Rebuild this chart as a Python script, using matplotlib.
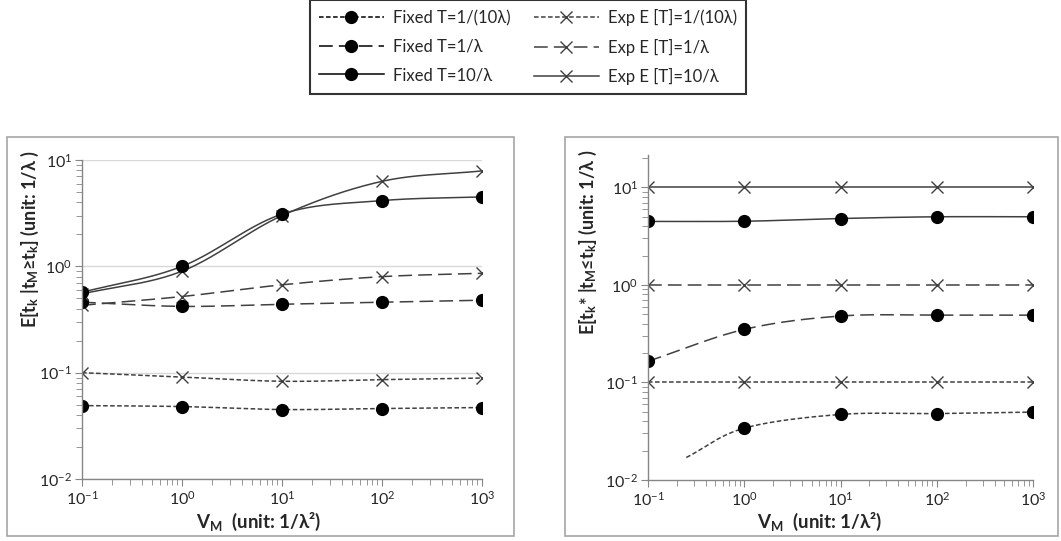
import numpy as np
import matplotlib
matplotlib.use("Agg")
import matplotlib.pyplot as plt
from matplotlib.lines import Line2D
from matplotlib.patches import Rectangle
from matplotlib.ticker import LogLocator, NullFormatter

plt.rcParams['font.family'] = ['Lato', 'DejaVu Sans']
plt.rcParams['mathtext.fontset'] = 'custom'
plt.rcParams['mathtext.rm'] = 'Lato'
plt.rcParams['mathtext.it'] = 'Lato:italic'
plt.rcParams['mathtext.bf'] = 'Lato:bold'

# Data
v_m = [0.1, 1, 10, 100, 1000]

# left panel: E[t_k | t_M >= t_k]
left_fixed_01 = [0.049, 0.048, 0.045, 0.046, 0.047]
left_fixed_1 = [0.46, 0.42, 0.44, 0.46, 0.48]
left_fixed_10 = [0.57, 1.0, 3.1, 4.15, 4.5]
left_exp_01 = [0.100, 0.091, 0.083, 0.086, 0.089]
left_exp_1 = [0.43, 0.52, 0.67, 0.80, 0.86]
left_exp_10 = [0.55, 0.90, 3.0, 6.3, 7.9]

# right panel: E[t_k* | t_M <= t_k]
right_fixed_01 = [0.034, 0.047, 0.048, 0.0497]   # no marker at 0.1
right_fixed_01_x = [1, 10, 100, 1000]
right_fixed_01_start = (0.25, 0.017)              # where the curve starts
right_fixed_1 = [0.165, 0.35, 0.48, 0.49, 0.49]
right_fixed_10 = [4.48, 4.5, 4.8, 5.0, 5.0]
right_exp_01 = [0.1, 0.1, 0.1, 0.1, 0.1]
right_exp_1 = [1, 1, 1, 1, 1]
right_exp_10 = [10, 10, 10, 10, 10]

labels_fixed = ["Fixed T=1/(10λ)", "Fixed T=1/λ", "Fixed T=10/λ"]
labels_exp = ["Exp E [T]=1/(10λ)", "Exp E [T]=1/λ", "Exp E [T]=10/λ"]

styles = [(0, (3, 1.6)), (0, (9, 4)), '-']
line_col = '#404040'
text_col = '#262626'


def smooth(xs, ys, n=40):
    # excel-like smoothing (catmull-rom in log-log space)
    lx = np.log10(xs)
    ly = np.log10(ys)
    px = np.concatenate([[2 * lx[0] - lx[1]], lx, [2 * lx[-1] - lx[-2]]])
    py = np.concatenate([[2 * ly[0] - ly[1]], ly, [2 * ly[-1] - ly[-2]]])
    outx, outy = [], []
    for i in range(1, len(px) - 2):
        p0, p1, p2, p3 = [np.array([px[j], py[j]]) for j in (i - 1, i, i + 1, i + 2)]
        c1 = p1 + (p2 - p0) / 6
        c2 = p2 - (p3 - p1) / 6
        t = np.linspace(0, 1, n)[:, None]
        b = (1 - t) ** 3 * p1 + 3 * (1 - t) ** 2 * t * c1 + 3 * (1 - t) * t ** 2 * c2 + t ** 3 * p2
        outx.append(b[:, 0])
        outy.append(b[:, 1])
    return 10 ** np.concatenate(outx), 10 ** np.concatenate(outy)


def draw(ax, xs, ys, ls, marker):
    sx, sy = smooth(xs, ys)
    ax.plot(sx, sy, color=line_col, ls=ls, lw=1.1)
    if marker == 'o':
        ax.plot(xs, ys, 'o', color='black', ms=8.5, ls='none')
    else:
        ax.plot(xs, ys, 'x', color='#404040', ms=9, mew=1.0, ls='none')


def style_axes(ax, ymax, grid):
    ax.set_xscale('log')
    ax.set_yscale('log')
    ax.set_xlim(0.1, 1000)
    ax.set_ylim(0.01, ymax)
    for s in ['top', 'right']:
        ax.spines[s].set_visible(False)
    for s in ['left', 'bottom']:
        ax.spines[s].set_color('#868686')
        ax.spines[s].set_linewidth(1.0)
    ax.xaxis.set_major_locator(LogLocator(base=10, numticks=10))
    ax.yaxis.set_major_locator(LogLocator(base=10, numticks=10))
    ax.xaxis.set_minor_locator(LogLocator(base=10, subs=np.arange(2, 10), numticks=20))
    ax.yaxis.set_minor_locator(LogLocator(base=10, subs=np.arange(2, 10), numticks=20))
    ax.xaxis.set_minor_formatter(NullFormatter())
    ax.yaxis.set_minor_formatter(NullFormatter())
    ax.tick_params(which='both', direction='out', color='#868686', labelsize=11.5,
                   labelcolor=text_col)
    ax.tick_params(which='major', length=5)
    ax.tick_params(which='minor', length=4)
    ax.tick_params(axis='x', pad=3)
    ax.tick_params(axis='y', pad=2)
    if grid:
        ax.yaxis.grid(True, which='major', color='#d9d9d9', lw=1.0)
        ax.set_axisbelow(True)


fig = plt.figure(figsize=(10.61, 5.41), dpi=100)

# panel frames
for (x0, x1) in [(7, 514), (565, 1058)]:
    fig.patches.append(Rectangle((x0 / 1061, 1 - 536 / 541), (x1 - x0) / 1061, (536 - 137) / 541,
                                 transform=fig.transFigure, fill=False,
                                 edgecolor='#a6a6a6', lw=1.2))

ax1 = fig.add_axes([82 / 1061, 1 - 479 / 541, 400 / 1061, 319 / 541])
ax2 = fig.add_axes([648 / 1061, 1 - 480 / 541, 385 / 1061, 325 / 541])

style_axes(ax1, 10, True)
style_axes(ax2, 21.5, False)

left_fixed = [left_fixed_01, left_fixed_1, left_fixed_10]
left_exp = [left_exp_01, left_exp_1, left_exp_10]
for i in range(3):
    draw(ax1, v_m, left_exp[i], styles[i], 'x')
    draw(ax1, v_m, left_fixed[i], styles[i], 'o')

right_exp = [right_exp_01, right_exp_1, right_exp_10]
for i in range(3):
    draw(ax2, v_m, right_exp[i], styles[i], 'x')
draw(ax2, v_m, right_fixed_1, styles[1], 'o')
draw(ax2, v_m, right_fixed_10, styles[2], 'o')
# dotted fixed series: curve from its start point, markers on data only
sx, sy = smooth([right_fixed_01_start[0]] + right_fixed_01_x,
                [right_fixed_01_start[1]] + right_fixed_01)
ax2.plot(sx, sy, color=line_col, ls=styles[0], lw=1.1)
ax2.plot(right_fixed_01_x, right_fixed_01, 'o', color='black', ms=8.5, ls='none')

# axis labels
fig.text(30 / 1061, 1 - 150 / 541,
         r"E[t$_\mathregular{k}$ |t$_\mathregular{M}$≥t$_\mathregular{k}$] (unit: 1/λ )",
         rotation=90, ha='center', va='top', fontsize=13, fontweight='bold', color=text_col)
fig.text(588 / 1061, 1 - 150 / 541,
         r"E[t$_\mathregular{k}$* |t$_\mathregular{M}$≤t$_\mathregular{k}$] (unit: 1/λ )",
         rotation=90, ha='center', va='top', fontsize=13, fontweight='bold', color=text_col)
fig.text(259 / 1061, 1 - 522 / 541, r"V$_\mathregular{M}$  (unit: 1/λ²)",
         ha='center', va='center', fontsize=13.5, fontweight='bold', color=text_col)
fig.text(820 / 1061, 1 - 522 / 541, r"V$_\mathregular{M}$  (unit: 1/λ²)",
         ha='center', va='center', fontsize=13.5, fontweight='bold', color=text_col)

# legend
handles = []
for i in range(3):
    handles.append(Line2D([], [], color='black', ls=styles[i], lw=1.1, marker='o', ms=8.5))
for i in range(3):
    handles.append(Line2D([], [], color=line_col, ls=styles[i], lw=1.1, marker='x', ms=9, mew=1.0))
leg = fig.legend(handles, labels_fixed + labels_exp, ncol=2, loc='upper center',
                 bbox_to_anchor=(528 / 1061, 1.0), fontsize=12, frameon=True,
                 fancybox=False, edgecolor='black', handlelength=3.9,
                 handletextpad=0.55, columnspacing=1.4, labelspacing=0.75,
                 borderpad=0.55, borderaxespad=0.0)
leg.get_frame().set_linewidth(1.5)
for t in leg.get_texts():
    t.set_color(text_col)

fig.savefig("out.png", dpi=100)
